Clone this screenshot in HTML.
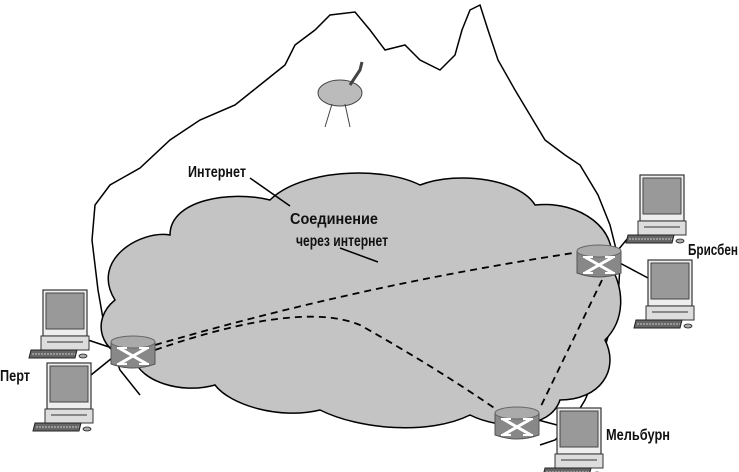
<!DOCTYPE html>
<html><head><meta charset="utf-8"><style>body{margin:0;background:#fff}svg{display:block}</style></head><body>
<svg width="739" height="472" viewBox="0 0 739 472" xmlns="http://www.w3.org/2000/svg">
<defs>
<g id="pc">
 <rect x="0" y="0" width="44" height="46" fill="#eee" stroke="#333" stroke-width="1.2"/>
 <rect x="3" y="3" width="38" height="36" fill="#999" stroke="#444" stroke-width="1"/>
 <rect x="-2" y="46" width="48" height="14" fill="#ddd" stroke="#333" stroke-width="1"/>
 <line x1="4" y1="52" x2="40" y2="52" stroke="#333"/>
 <polygon points="-12,60 34,60 32,68 -14,68" fill="#666" stroke="#222" stroke-width="1"/>
 <line x1="-11" y1="64" x2="32" y2="64" stroke="#ccc" stroke-dasharray="2,1"/>
 <ellipse cx="40" cy="66" rx="4" ry="2" fill="#aaa" stroke="#222" stroke-width="0.8"/>
</g>
<g id="rt">
 <path d="M0,8 Q22,0 44,8 L44,30 Q22,38 0,30 Z" fill="#888" stroke="#555"/>
 <ellipse cx="22" cy="8" rx="22" ry="6" fill="#aaa" stroke="#666"/>
 <path d="M8,14 L36,30 M8,30 L36,14" stroke="#fff" stroke-width="3"/>
 <path d="M6,14 h10 M28,14 h10 M6,30 h10 M28,30 h10" stroke="#fff" stroke-width="2"/>
</g>
</defs>
<path d="M140,395 L120,370 L105,330 L98,290 L92,240 L95,205 L110,185 L140,168 L170,140 L200,120 L235,105 L260,85 L285,65 L295,45 L315,30 L330,15 L355,12 L370,30 L385,50 L405,45 L420,60 L440,70 L455,55 L462,30 L470,10 L480,5 L488,30 L498,60 L515,90 L530,115 L545,140 L565,155 L580,165 L598,195 L610,225 L620,265 L618,300 L610,330 L598,370 L585,400 L570,425 L555,440 L540,445" fill="none" stroke="#000" stroke-width="1.5"/>
<path d="M115,300 C90,260 140,230 170,235 C170,200 230,190 270,200 C300,170 380,165 420,185 C460,170 520,180 535,205 C580,200 620,230 610,265 C625,290 625,320 605,340 C620,370 600,400 560,400 C550,430 500,430 470,415 C430,435 360,430 320,410 C280,420 230,405 215,385 C180,395 140,380 135,360 C100,355 90,320 115,300 Z" fill="#c4c4c4" stroke="#000" stroke-width="1.5"/>
<g fill="#bbb" stroke="#444" stroke-width="1">
<ellipse cx="340" cy="93" rx="22" ry="13"/>
<path d="M350,85 L360,70 L362,62" fill="none" stroke-width="3"/>
<path d="M332,104 L325,127 M345,104 L350,127" fill="none"/>
</g>
<g stroke="#000" stroke-width="1.8" stroke-dasharray="7,5" fill="none">
<path d="M155,345 Q360,285 580,252"/>
<path d="M155,350 Q300,300 360,325 Q440,370 500,412"/>
<path d="M602,280 L540,408"/>
</g>
<g stroke="#000" stroke-width="1.5">
<line x1="88" y1="340" x2="112" y2="348"/><line x1="91" y1="375" x2="112" y2="358"/>
<line x1="618" y1="250" x2="628" y2="238"/><line x1="618" y1="262" x2="648" y2="278"/>
<line x1="538" y1="420" x2="557" y2="425"/>
<line x1="250" y1="178" x2="290" y2="206"/><line x1="340" y1="248" x2="378" y2="262"/>
</g>
<use href="#pc" x="43" y="290"/><use href="#pc" x="47" y="363"/>
<use href="#pc" x="640" y="175"/><use href="#pc" x="648" y="260"/>
<use href="#pc" x="557" y="408"/>
<use href="#rt" x="111" y="334"/><use href="#rt" x="577" y="243"/><use href="#rt" x="495" y="405"/>
<g font-family="Liberation Sans, sans-serif" font-size="16" font-weight="bold" fill="#111">
<text x="188" y="177" textLength="58" lengthAdjust="spacingAndGlyphs">Интернет</text>
<text x="290" y="224" textLength="88" lengthAdjust="spacingAndGlyphs">Соединение</text>
<text x="296" y="246" textLength="92" lengthAdjust="spacingAndGlyphs">через интернет</text>
<text x="0" y="381" textLength="30" lengthAdjust="spacingAndGlyphs">Перт</text>
<text x="688" y="255" textLength="50" lengthAdjust="spacingAndGlyphs">Брисбен</text>
<text x="606" y="440" textLength="64" lengthAdjust="spacingAndGlyphs">Мельбурн</text>
</g>
</svg>
</body></html>
